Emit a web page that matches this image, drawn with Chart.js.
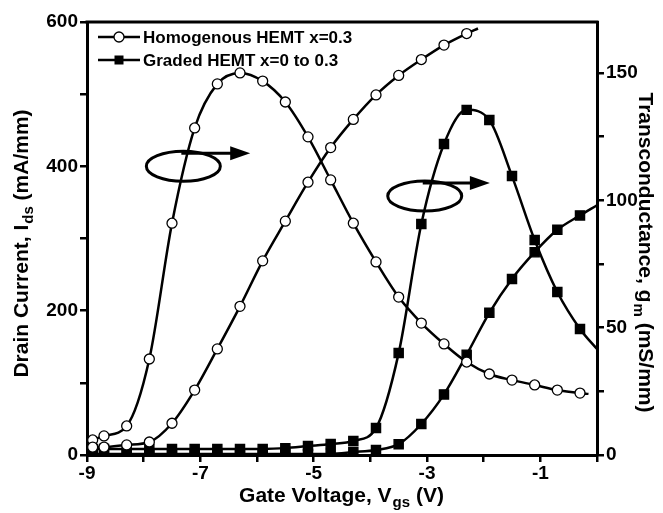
<!DOCTYPE html>
<html lang="en">
<head>
    <meta charset="UTF-8">
    <title>HEMT transfer characteristics</title>
    <script src="https://cdn.jsdelivr.net/npm/chart.js"></script>
    <style>
        html, body {
            margin: 0;
            padding: 0;
            background: #fff;
        }
        .chart-box {
            width: 663px;
            height: 513px;
            position: relative;
        }
    </style>
</head>
<body>
    <div class="chart-box">
        <canvas id="hemtChart"></canvas>
    </div>
    <script>
        // gate voltage of the measured points (V)
        const gateVoltage = [-8.9, -8.7, -8.3, -7.9, -7.5, -7.1, -6.7, -6.3, -5.9, -5.5, -5.1, -4.7,
                             -4.3, -3.9, -3.5, -3.1, -2.7, -2.3, -1.9, -1.5, -1.1, -0.7, -0.3];

        // drain current, mA/mm (left axis)
        const homogenousIds = [11, 11, 14, 18, 44, 90, 147, 206, 269, 324, 378, 426,
                               465, 499, 526, 548, 568, 584];
        const gradedIds = [1.5, 1.5, 1.5, 1.5, 1.5, 1.5, 1.5, 1.5, 1.5, 1.5, 1.5, 1.5,
                           4, 7, 15, 43, 84, 139, 197, 244, 281, 312, 332];

        // transconductance, mS/mm (right axis)
        const homogenousGm = [5.9, 7.5, 11.4, 37.7, 91, 128.4, 145.7, 150, 146.8, 138.6, 124.9, 108,
                              91, 75.8, 62, 51.8, 43.6, 36.5, 31.8, 29.4, 27.5, 25.5, 24.3];
        const gradedGm = [2.4, 2.4, 2.4, 2.4, 2.4, 2.4, 2.4, 2.4, 2.4, 2.7, 3.5, 4.3,
                          5.5, 10.6, 40, 90.7, 122.1, 135.5, 131.5, 109.5, 84.4, 64, 49.5];

        // where each line runs on past its last marker [V, value]
        const homogenousIdsEnd = [-2.1, 591];
        const homogenousGmEnd = [-0.15, 24];
        const gradedIdsEnd = [0, 346];
        const gradedGmEnd = [0, 41.6];

        const legendLabels = ['Homogenous HEMT x=0.3', 'Graded HEMT x=0 to 0.3'];

        const xTicks = [-9, -8, -7, -6, -5, -4, -3, -2, -1, 0];
        const xTickLabels = ['-9', '', '-7', '', '-5', '', '-3', '', '-1', ''];
        const idsTicks = [0, 100, 200, 300, 400, 500, 600];
        const idsTickLabels = ['0', '', '200', '', '400', '', '600'];
        const gmTicks = [0, 25, 50, 75, 100, 125, 150];
        const gmTickLabels = ['0', '', '50', '', '100', '', '150'];

        const FONT = '"Liberation Sans", Arial, sans-serif';

        function toPoints(ys, end) {
            let pts = ys.map((y, i) => ({ x: gateVoltage[i], y: y }));
            pts.push({ x: end[0], y: end[1] });
            return pts;
        }

        function series(label, ys, end, axis, style) {
            let open = style === 'circle';
            return {
                label: label,
                data: toPoints(ys, end),
                yAxisID: axis,
                borderColor: '#000',
                borderWidth: 2.5,
                cubicInterpolationMode: 'monotone',
                pointStyle: open ? 'circle' : 'rect',
                pointRadius: ctx => ctx.dataIndex >= ys.length ? 0 : (open ? 5 : 6.5),
                pointBackgroundColor: open ? '#fff' : '#000',
                pointBorderColor: '#000',
                pointBorderWidth: 1.3
            };
        }

        function fixTicks(values, labels) {
            return {
                afterBuildTicks: scale => { scale.ticks = values.map(v => ({ value: v })); },
                callback: (value) => labels[values.indexOf(value)] ?? ''
            };
        }

        // text with one subscript part, centred on (x, y)
        function drawTitle(ctx, before, sub, after, x, y, angle) {
            let big = 'bold 21px ' + FONT;
            let small = 'bold 15px ' + FONT;
            ctx.save();
            ctx.translate(x, y);
            ctx.rotate(angle);
            ctx.fillStyle = '#000';
            ctx.textBaseline = 'middle';
            ctx.textAlign = 'left';
            ctx.font = big;
            let w1 = ctx.measureText(before).width;
            let w3 = ctx.measureText(after).width;
            ctx.font = small;
            let w2 = ctx.measureText(sub).width;
            let left = -(w1 + w2 + w3) / 2;
            ctx.font = big;
            ctx.fillText(before, left, 0);
            ctx.font = small;
            ctx.fillText(sub, left + w1 + 1, 7);
            ctx.font = big;
            ctx.fillText(after, left + w1 + w2 + 1, 0);
            ctx.restore();
        }

        function drawArrowMark(ctx, chart, cx, cy, tipX) {
            let xs = chart.scales.x, ys = chart.scales.y;
            let px = xs.getPixelForValue(cx), py = ys.getPixelForValue(cy);
            let tip = xs.getPixelForValue(tipX);
            ctx.save();
            ctx.strokeStyle = '#000';
            ctx.fillStyle = '#000';
            ctx.lineWidth = 3;
            ctx.beginPath();
            ctx.ellipse(px, py, 37, 15, 0, 0, Math.PI * 2);
            ctx.stroke();
            ctx.beginPath();
            ctx.moveTo(px - 2, py - 13);
            ctx.lineTo(tip - 18, py - 13);
            ctx.stroke();
            ctx.beginPath();
            ctx.moveTo(tip - 20, py - 20);
            ctx.lineTo(tip, py - 13);
            ctx.lineTo(tip - 20, py - 6);
            ctx.closePath();
            ctx.fill();
            ctx.restore();
        }

        const decorations = {
            id: 'decorations',
            afterDraw(chart) {
                let ctx = chart.ctx;
                let area = chart.chartArea;

                // top frame line
                ctx.save();
                ctx.strokeStyle = '#000';
                ctx.lineWidth = 3;
                ctx.beginPath();
                ctx.moveTo(area.left - 1.5, area.top);
                ctx.lineTo(area.right + 1.5, area.top);
                ctx.stroke();
                ctx.restore();

                // legend: line - marker - line, then label
                let rows = [[37, 'circle'], [60, 'rect']];
                rows.forEach((row, i) => {
                    let y = row[0];
                    ctx.save();
                    ctx.strokeStyle = '#000';
                    ctx.lineWidth = 2.5;
                    ctx.beginPath();
                    ctx.moveTo(98, y);
                    ctx.lineTo(140, y);
                    ctx.stroke();
                    if (row[1] === 'circle') {
                        ctx.fillStyle = '#fff';
                        ctx.lineWidth = 1.3;
                        ctx.beginPath();
                        ctx.arc(119, y, 5, 0, Math.PI * 2);
                        ctx.fill();
                        ctx.stroke();
                    } else {
                        ctx.fillStyle = '#000';
                        ctx.fillRect(114.5, y - 4.5, 9, 9);
                    }
                    ctx.fillStyle = '#000';
                    ctx.font = 'bold 17px ' + FONT;
                    ctx.textBaseline = 'middle';
                    ctx.fillText(legendLabels[i], 143, y + 1);
                    ctx.restore();
                });

                // ellipses with arrows towards the right axis
                drawArrowMark(ctx, chart, -7.3, 400, -6.12);
                drawArrowMark(ctx, chart, -3.04, 359, -1.89);

                // axis titles
                drawTitle(ctx, 'Gate Voltage, V', 'gs', ' (V)', 341, 496, 0);
                drawTitle(ctx, 'Drain Current, I', 'ds', ' (mA/mm)', 22, 244, -Math.PI / 2);
                drawTitle(ctx, 'Transconductance, g', 'm', ' (mS/mm)', 645, 252, Math.PI / 2);
            }
        };

        function axisLook() {
            return {
                grid: {
                    drawOnChartArea: false,
                    drawTicks: true,
                    tickLength: 7,
                    color: '#000',
                    lineWidth: 2.5
                },
                border: { display: true, color: '#000', width: 3 }
            };
        }

        let xTickOpts = fixTicks(xTicks, xTickLabels);
        let idsTickOpts = fixTicks(idsTicks, idsTickLabels);
        let gmTickOpts = fixTicks(gmTicks, gmTickLabels);
        let tickFont = { family: FONT, size: 19, weight: 'bold' };

        new Chart(document.getElementById('hemtChart'), {
            type: 'line',
            data: {
                datasets: [
                    series('Homogenous Ids', homogenousIds, homogenousIdsEnd, 'y', 'circle'),
                    series('Homogenous gm', homogenousGm, homogenousGmEnd, 'y2', 'circle'),
                    series('Graded Ids', gradedIds, gradedIdsEnd, 'y', 'rect'),
                    series('Graded gm', gradedGm, gradedGmEnd, 'y2', 'rect')
                ]
            },
            options: {
                responsive: true,
                maintainAspectRatio: false,
                animation: false,
                layout: { padding: { top: 22, left: 0, right: 0, bottom: 0 } },
                plugins: {
                    legend: { display: false },
                    tooltip: { enabled: false }
                },
                scales: {
                    x: Object.assign(axisLook(), {
                        type: 'linear',
                        min: -9,
                        max: 0,
                        afterBuildTicks: xTickOpts.afterBuildTicks,
                        afterFit: s => { s.height = 58; },
                        ticks: { callback: xTickOpts.callback, color: '#000', font: tickFont, padding: 0, maxRotation: 0, autoSkip: false }
                    }),
                    y: Object.assign(axisLook(), {
                        type: 'linear',
                        position: 'left',
                        min: 0,
                        max: 600,
                        afterBuildTicks: idsTickOpts.afterBuildTicks,
                        afterFit: s => { s.width = 87; },
                        ticks: { callback: idsTickOpts.callback, color: '#000', font: tickFont, padding: 2, autoSkip: false }
                    }),
                    y2: Object.assign(axisLook(), {
                        type: 'linear',
                        position: 'right',
                        min: 0,
                        max: 170,
                        afterBuildTicks: gmTickOpts.afterBuildTicks,
                        afterFit: s => { s.width = 66; },
                        ticks: { callback: gmTickOpts.callback, color: '#000', font: tickFont, padding: 2, autoSkip: false }
                    })
                }
            },
            plugins: [decorations]
        });
    </script>
</body>
</html>
